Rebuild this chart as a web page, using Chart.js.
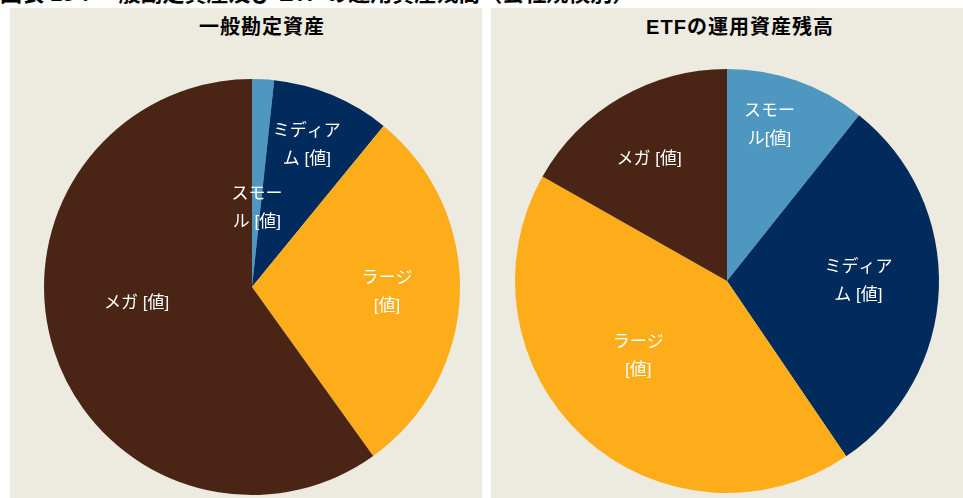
<!DOCTYPE html>
<html>
<head>
<meta charset="utf-8">
<script src="https://cdn.jsdelivr.net/npm/chart.js@4.4.1/dist/chart.umd.min.js"></script>
<style>
  html, body { margin: 0; padding: 0; background: #fff; width: 963px; height: 498px; overflow: hidden;
    font-family: "Liberation Sans", "Noto Sans CJK JP", sans-serif; }
  .heading { position: absolute; left: 0; top: -17px; font-size: 22px; line-height: 22px; font-weight: bold;
    white-space: nowrap; color: #000; }
  .panel { position: absolute; top: 8px; width: 472px; height: 490px; background: #edeae0; }
  #panelLeft  { left: 10px; }
  #panelRight { left: 491px; }
  .panel-title { position: absolute; top: 7px; width: 400px; text-align: center; font-size: 20px; line-height: 24px;
    font-weight: bold; color: #000; letter-spacing: 1px; }
  .panel canvas { position: absolute; left: 0; top: 0; }
</style>
</head>
<body>
<div class="heading">図表 15：一般勘定資産及び ETF の運用資産残高（会社規模別）</div>

<div class="panel" id="panelLeft">
  <div class="panel-title" style="left:52px">一般勘定資産</div>
  <canvas id="generalChart" width="472" height="490"></canvas>
</div>
<div class="panel" id="panelRight">
  <div class="panel-title" style="left:49px">ETFの運用資産残高</div>
  <canvas id="etfChart" width="472" height="490"></canvas>
</div>

<script>
// Company size buckets (clockwise from 12 o'clock)
const categories = ['スモール', 'ミディアム', 'ラージ', 'メガ'];

// Share of assets, %
const generalAccount = [1.7, 9.2, 29.2, 59.9];
const etfAssets      = [10.7, 29.8, 42.7, 16.8];

// Data label text, already wrapped as in the original
const generalLabels = [['スモー', 'ル [値]'], ['ミディア', 'ム [値]'], ['ラージ', '[値]'], ['メガ [値]']];
const etfLabels     = [['スモー', 'ル[値]'], ['ミディア', 'ム [値]'], ['ラージ', '[値]'], ['メガ [値]']];

const SLICE_COLORS = ['#4e97c1', '#002b5c', '#fdad1a', '#4a2515'];
const FONT = '"Liberation Sans", "Noto Sans CJK JP", sans-serif';

// label placement per slice: [fraction of radius, angle nudge in degrees]
const generalPlacement = [[0.38, 0.5], [0.73, -1.5], [0.65, 0.5], [0.56, 10]];
const etfPlacement     = [[0.76, -4], [0.62, -2], [0.55, 7], [0.68, -2.5]];

// ─── Slice labels drawn from the arc geometry ────────────────────────────────
const sliceLabels = {
  id: 'sliceLabels',
  afterDatasetsDraw(chart, args, opts) {
    const { ctx } = chart;
    const meta = chart.getDatasetMeta(0);
    ctx.save();
    ctx.fillStyle = '#fff';
    ctx.font = `17px ${FONT}`;
    ctx.textAlign = 'center';
    ctx.textBaseline = 'middle';
    meta.data.forEach((arc, i) => {
      const { x, y, startAngle, endAngle, outerRadius } = arc.getProps(['x', 'y', 'startAngle', 'endAngle', 'outerRadius'], true);
      const [frac, nudge] = opts.placement[i];
      const mid = (startAngle + endAngle) / 2 + nudge * Math.PI / 180;
      const cx = x + Math.cos(mid) * outerRadius * frac;
      const cy = y + Math.sin(mid) * outerRadius * frac;
      const lines = opts.lines[i];
      const lh = 28;
      lines.forEach((line, k) => {
        ctx.fillText(line, cx, cy + (k - (lines.length - 1) / 2) * lh);
      });
    });
    ctx.restore();
  },
};

function renderPie(id, values, lines, placement, padding) {
  return new Chart(document.getElementById(id), {
    type: 'pie',
    data: {
      labels: categories,
      datasets: [{
        data: values,
        backgroundColor: SLICE_COLORS,
        borderWidth: 0,
      }],
    },
    options: {
      responsive: false,
      animation: false,
      layout: { padding },
      plugins: {
        legend: { display: false },
        tooltip: { enabled: false },
        sliceLabels: { lines, placement },
      },
    },
    plugins: [sliceLabels],
  });
}

renderPie('generalChart', generalAccount, generalLabels, generalPlacement, { top: 71, bottom: 3, left: 34, right: 22 });
renderPie('etfChart', etfAssets, etfLabels, etfPlacement, { top: 61, bottom: 5, left: 24, right: 24 });
</script>
</body>
</html>
